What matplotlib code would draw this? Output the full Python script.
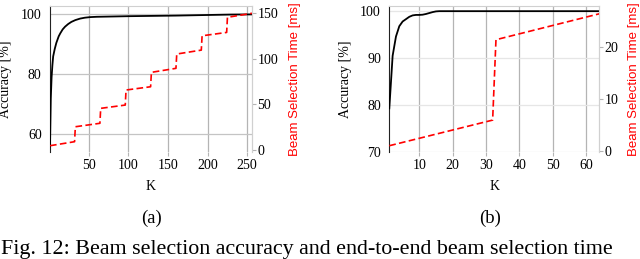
import matplotlib
matplotlib.use("Agg")
import matplotlib.pyplot as plt

# panel (a): 256 beams
k_acc_a = [1, 2, 3, 4, 5, 7, 9, 12, 14, 17, 20, 24, 28, 33, 39, 45, 52, 60,
           80, 100, 130, 160, 200, 230, 256]
acc_a = [56, 72, 79, 83, 86, 88.5, 90.5, 92.7, 93.7, 95, 95.9, 96.8, 97.5, 98.1,
         98.6, 98.9, 99.1, 99.2, 99.3, 99.4, 99.5, 99.6, 99.8, 99.95, 100]
k_time_a = [1, 32, 33, 64, 65, 96, 97, 128, 129, 160, 161, 192, 193, 224, 225, 256]
time_a = [4.7, 9.1, 25.5, 29.3, 45.7, 49.3, 65.8, 69.4, 85.2, 89.6, 105.3, 109.6,
          125.3, 129, 145.6, 150]

# panel (b): 64 beams
k_acc_b = [1, 2, 3, 4, 5, 6, 7, 8, 9, 10, 11, 12, 13, 14, 15, 16, 64]
acc_b = [79.3, 90.5, 94.6, 96.8, 97.8, 98.3, 98.8, 99.1, 99.2, 99.2, 99.25, 99.4,
         99.6, 99.8, 99.95, 100, 100]
k_time_b = [1, 32, 33, 64]
time_b = [0.96, 5.9, 21.4, 26.4]

serif = "Liberation Serif"
sans = "Liberation Sans"
plt.rcParams['font.family'] = serif

fig = plt.figure(figsize=(6.4, 2.59), dpi=100)

def panel(rect, k_acc, acc, k_time, tm, xlim, ylim, ylim2, xt, yt, yt2, hgrid):
    ax = fig.add_axes(rect)
    ax.set_xlim(*xlim)
    ax.set_ylim(*ylim)
    ax.set_xticks(xt)
    ax.set_yticks(yt)
    ax.grid(axis='x', color='#b4b4b4', linewidth=0.9)
    ax.grid(axis='y', color=hgrid, linewidth=0.9)
    ax.set_axisbelow(True)
    ax.plot(k_acc, acc, color='black', linewidth=1.3, zorder=3)
    for s in ['top', 'right']:
        ax.spines[s].set_color('#d0d0d0')
    ax.spines['bottom'].set_visible(False)
    ax.spines['left'].set_color('#222222')
    ax.tick_params(axis='y', length=0, pad=6, labelsize=10)
    ax.tick_params(axis='x', length=3, color='#b4b4b4', pad=2, labelsize=10)
    ax.set_xlabel('K', fontsize=10)
    ax.set_ylabel('Accuracy [%]', fontsize=10)

    ax2 = ax.twinx()
    ax2.set_ylim(*ylim2)
    ax2.set_yticks(yt2)
    ax2.plot(k_time, tm, color='#ff0000', linestyle=(0, (4, 2)), linewidth=1.2, zorder=3)
    for s in ['top', 'bottom', 'left']:
        ax2.spines[s].set_visible(False)
    ax2.spines['right'].set_color('#d0d0d0')
    ax2.tick_params(axis='y', length=3, color='#b4b4b4', pad=1, labelsize=10)
    ax2.set_ylabel('Beam Selection Time [ms]', color='#ff0000', fontsize=9.5,
                   family=sans)
    return ax, ax2

ax_a, ax_a2 = panel([50/640, 107/259, 202/640, 146/259], k_acc_a, acc_a, k_time_a, time_a,
                    (1, 256), (54.1, 102.8), (-2.2, 158),
                    [50, 100, 150, 200, 250], [60, 80, 100], [0, 50, 100, 150], '#c4c4c4')
ax_b, ax_b2 = panel([389.3/640, 107/259, 210/640, 146/259], k_acc_b, acc_b, k_time_b, time_b,
                    (1, 64), (70, 101.1), (-0.25, 27.9),
                    [10, 20, 30, 40, 50, 60], [70, 80, 90, 100], [0, 10, 20], '#e6e6e6')

ax_a.yaxis.set_label_coords(-0.188, 0.5)
ax_a2.yaxis.set_label_coords(1.185, 0.5)
ax_a.xaxis.set_label_coords(0.5, -0.19)
ax_b.yaxis.set_label_coords(-0.179, 0.5)
ax_b2.yaxis.set_label_coords(1.137, 0.5)
ax_b.xaxis.set_label_coords(0.5, -0.19)

fig.text(151.7/640, 1 - 218/259, '(a)', ha='center', va='center', fontsize=13.4)
fig.text(490/640, 1 - 218/259, '(b)', ha='center', va='center', fontsize=13.4)
fig.text(1/640, 1 - 254/259, 'Fig. 12: Beam selection accuracy and end-to-end beam selection time',
         ha='left', va='baseline', fontsize=15.8)

fig.savefig('out.png', dpi=100)
